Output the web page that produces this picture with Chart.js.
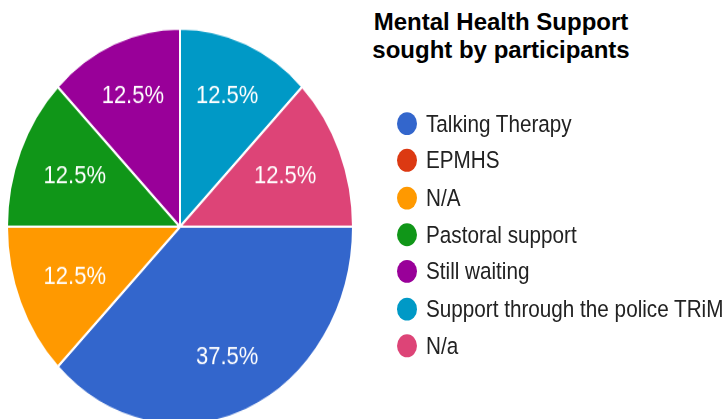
<!DOCTYPE html>
<html>
<head>
<meta charset="utf-8">
<script src="https://cdn.jsdelivr.net/npm/chart.js@4/dist/chart.umd.min.js"></script>
<style>
  html, body { margin: 0; padding: 0; background: #fff; overflow: hidden; }
  body { width: 723px; height: 419px; position: relative; font-family: Arial, "Liberation Sans", sans-serif; }
  #title { position: absolute; left: 351px; top: 8px; width: 300px; text-align: center;
           font-weight: bold; font-size: 24px; line-height: 28px; color: #000; }
  #stretch { position: absolute; left: 0; top: 0; width: 723px; height: 372px;
             transform: scaleY(1.145); transform-origin: 0 0; }
  #pieWrap { position: absolute; left: 0; top: 0; width: 360px; height: 372px; }
  #legend { position: absolute; left: 397px; top: 92px; }
  .row { height: 32.3px; display: flex; align-items: center; white-space: nowrap;
         font-size: 20.7px; color: #222; }
  .dot { width: 20px; height: 20px; border-radius: 50%; margin-right: 9px; flex: none; }
</style>
</head>
<body>
<div id="title">Mental Health Support<br>sought by participants</div>
<div id="stretch">
  <div id="pieWrap"><canvas id="pie" width="360" height="372"></canvas></div>
  <div id="legend"></div>
</div>
<script>
// Mental health support pie
const labels = ['Talking Therapy', 'EPMHS', 'N/A', 'Pastoral support', 'Still waiting',
                'Support through the police TRiM', 'N/a'];
const counts = [3, 0, 1, 1, 1, 1, 1];
const colors = ['#3366cc', '#dc3912', '#ff9900', '#109618', '#990099', '#0099c6', '#dd4477'];

// legend
const legendEl = document.getElementById('legend');
labels.forEach(function(lab, i) {
  const row = document.createElement('div');
  row.className = 'row';
  const dot = document.createElement('span');
  dot.className = 'dot';
  dot.style.background = colors[i];
  row.appendChild(dot);
  row.appendChild(document.createTextNode(lab));
  legendEl.appendChild(row);
});

// percentage labels inside slices
const pctPlugin = {
  id: 'pct',
  afterDatasetsDraw: function(chart) {
    const ctx = chart.ctx;
    const meta = chart.getDatasetMeta(0);
    const total = counts.reduce((a, b) => a + b, 0);
    ctx.save();
    ctx.font = '22px Arial, "Liberation Sans", sans-serif';
    ctx.fillStyle = '#fff';
    ctx.textAlign = 'center';
    ctx.textBaseline = 'middle';
    meta.data.forEach(function(arc, i) {
      if (!counts[i]) return;
      const p = arc.getProps(['x', 'y', 'startAngle', 'endAngle', 'outerRadius'], true);
      const mid = (p.startAngle + p.endAngle) / 2;
      const f = 0.62 + 0.1 * Math.abs(Math.sin(mid));
      const r = p.outerRadius * f;
      const txt = (counts[i] / total * 100).toFixed(1) + '%';
      ctx.fillText(txt, p.x + Math.cos(mid) * r, p.y + Math.sin(mid) * r);
    });
    ctx.restore();
  }
};

new Chart(document.getElementById('pie'), {
  type: 'pie',
  data: {
    labels: labels,
    datasets: [{
      data: counts,
      backgroundColor: colors,
      borderColor: '#fff',
      borderWidth: 2
    }]
  },
  options: {
    responsive: false,
    animation: false,
    rotation: 90,
    layout: { padding: { left: 6, right: 6, top: 24, bottom: 0 } },
    plugins: { legend: { display: false }, tooltip: { enabled: false } }
  },
  plugins: [pctPlugin]
});
</script>
</body>
</html>
